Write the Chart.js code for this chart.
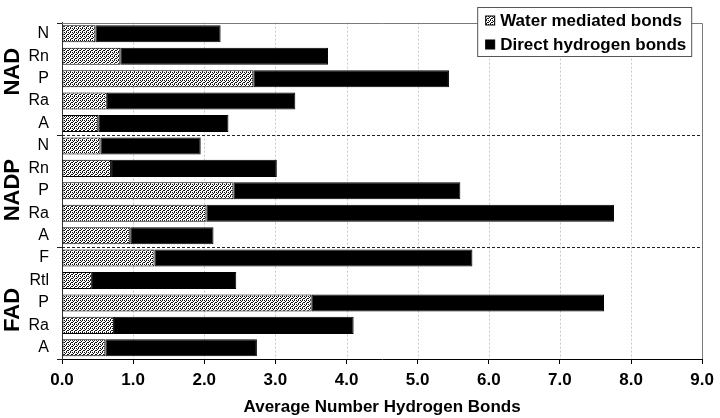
<!DOCTYPE html>
<html><head><meta charset="utf-8">
<script src="https://cdn.jsdelivr.net/npm/chart.js@4/dist/chart.umd.min.js"></script>
<style>html,body{margin:0;padding:0;background:#fff}canvas{display:block}</style>
</head><body>
<canvas id="c" width="720" height="418"></canvas>
<script>
const categories = ['N','Rn','P','Ra','A','N','Rn','P','Ra','A','F','Rtl','P','Ra','A'];
const groupNames = ['NAD','NADP','FAD'];
const groupLabelIndex = [1.69, 6.97, 12.31];
const groupBoundaries = [0, 5, 10, 15];
const waterBonds  = [0.47,0.82,2.69,0.63,0.51, 0.54,0.69,2.41,2.03,0.96, 1.30,0.42,3.51,0.73,0.61];
const directBonds = [1.76,2.92,2.75,2.65,1.83, 1.41,2.33,3.19,5.73,1.17, 4.47,2.03,4.11,3.37,2.13];
const seriesNames = ['Water mediated bonds','Direct hydrogen bonds'];
const xMin = 0, xMax = 9, xStep = 1;
const axisTitle = 'Average Number Hydrogen Bonds';

const canvas = document.getElementById('c');
const ctx0 = canvas.getContext('2d');
function makePattern(){
  const p = document.createElement('canvas');
  p.width = 4; p.height = 4;
  const g = p.getContext('2d');
  g.fillStyle = '#fff'; g.fillRect(0,0,4,4);
  g.fillStyle = '#111';
  [[0,0],[2,0],[1,1],[0,2],[3,2],[2,3]].forEach(([x,y])=>g.fillRect(x,y,1,1));
  return ctx0.createPattern(p,'repeat');
}
const stipple = makePattern();
const FONT = '"Liberation Sans", Arial, sans-serif';

const extras = {
  id: 'extras',
  beforeDraw(chart){
    const c = chart.ctx;
    c.save(); c.fillStyle = '#fff'; c.fillRect(0,0,chart.width,chart.height); c.restore();
  },
  beforeDatasetsDraw(chart){
    const c = chart.ctx, a = chart.chartArea, x = chart.scales.x;
    c.save();
    c.strokeStyle = '#c8c8c8'; c.lineWidth = 1; c.setLineDash([2,2]);
    x.ticks.forEach(t => {
      if (t.value <= xMin || t.value >= xMax) return;
      const px = Math.round(x.getPixelForValue(t.value)) + 0.5;
      c.beginPath(); c.moveTo(px, a.top); c.lineTo(px, a.bottom); c.stroke();
    });
    c.restore();
  },
  afterDraw(chart){
    const c = chart.ctx, a = chart.chartArea, y = chart.scales.y;
    c.save();
    c.strokeStyle = '#7a7a7a'; c.lineWidth = 1;
    c.beginPath();
    c.moveTo(a.left, Math.round(a.top)+0.5); c.lineTo(Math.round(a.right)+0.5, Math.round(a.top)+0.5);
    c.lineTo(Math.round(a.right)+0.5, a.bottom);
    c.stroke();
    groupBoundaries.forEach(b => {
      let py;
      if (b === 0) py = a.top; else if (b === categories.length) py = a.bottom;
      else py = (y.getPixelForValue(b-1) + y.getPixelForValue(b)) / 2;
      py = Math.round(py) + 0.5;
      c.strokeStyle = '#222'; c.setLineDash([]);
      c.beginPath(); c.moveTo(a.left-5, py); c.lineTo(a.left, py); c.stroke();
      if (b !== 0 && b !== categories.length) {
        c.setLineDash([3,2]);
        c.beginPath(); c.moveTo(a.left, py); c.lineTo(a.right, py); c.stroke();
        c.setLineDash([]);
      }
    });
    c.fillStyle = '#000';
    c.font = 'bold 22px ' + FONT;
    c.textAlign = 'center'; c.textBaseline = 'alphabetic';
    groupNames.forEach((g, i) => {
      const py = y.getPixelForValue(groupLabelIndex[i]);
      c.save(); c.translate(19, py); c.rotate(-Math.PI/2); c.fillText(g, 0, 0); c.restore();
    });
    const bx = a.right - 224.5, by = 7.5, bw = 214, bh = 49;
    c.fillStyle = '#fff'; c.fillRect(bx, by, bw, bh);
    c.strokeStyle = '#555'; c.strokeRect(bx, by, bw, bh);
    c.font = 'bold 17px ' + FONT; c.textAlign = 'left'; c.textBaseline = 'alphabetic';
    const fills = [stipple, '#000'];
    [26, 50].forEach((base, i) => {
      c.fillStyle = fills[i]; c.fillRect(bx+8, base-10, 9, 9);
      c.strokeStyle = '#000'; c.strokeRect(bx+8, base-10, 9, 9);
      c.fillStyle = '#000'; c.fillText(seriesNames[i], bx+22.5, base);
    });
    c.restore();
  }
};

new Chart(canvas, {
  type: 'bar',
  data: {
    labels: categories,
    datasets: [
      { label: seriesNames[0], data: waterBonds, backgroundColor: stipple, borderColor: '#000', borderWidth: 1, borderSkipped: false },
      { label: seriesNames[1], data: directBonds, backgroundColor: '#000', borderColor: '#000', borderWidth: 1, borderSkipped: false }
    ]
  },
  options: {
    indexAxis: 'y',
    responsive: false,
    animation: false,
    devicePixelRatio: 1,
    layout: { padding: { top: 2, left: 0, right: 0, bottom: 0 } },
    datasets: { bar: { categoryPercentage: 1, barPercentage: 0.76 } },
    plugins: { legend: { display: false }, tooltip: { enabled: false } },
    scales: {
      x: {
        stacked: true, min: xMin, max: xMax,
        ticks: { stepSize: xStep, color: '#000', font: { family: FONT, size: 17, weight: 'bold' }, padding: 6,
                 callback: v => Number(v).toFixed(1) },
        grid: { drawOnChartArea: false, color: '#000', tickColor: '#000', tickLength: 5, lineWidth: 1 },
        border: { color: '#000' },
        title: { display: true, text: axisTitle, color: '#000', font: { family: FONT, size: 17, weight: 'bold' }, padding: { top: 4, bottom: 0 } },
        afterFit(s){ s.height = 59; }
      },
      y: {
        stacked: true,
        ticks: { color: '#000', font: { family: FONT, size: 16 }, padding: 13, autoSkip: false },
        grid: { display: false, drawTicks: false, tickLength: 0 },
        border: { color: '#333' },
        afterFit(s){ s.width = 62; }
      }
    }
  },
  plugins: [extras]
});
</script>
</body></html>
